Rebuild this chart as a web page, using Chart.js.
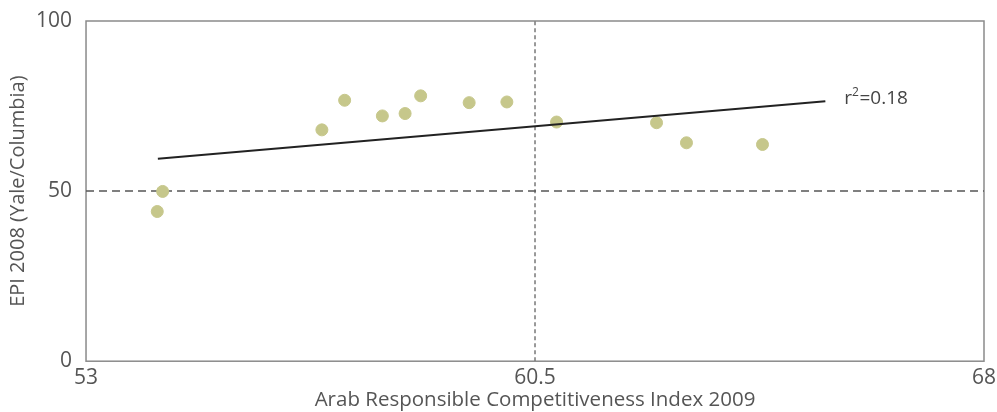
<!DOCTYPE html>
<html>
<head>
<meta charset="utf-8">
<script src="https://cdn.jsdelivr.net/npm/chart.js@4"></script>
<style>
html,body{margin:0;padding:0;background:#fff;}
#wrap{width:997px;height:412px;}
</style>
</head>
<body>
<div id="wrap"><canvas id="c" width="997" height="412"></canvas></div>
<script>
// Data
const arciX = [54.19, 54.28, 56.94, 57.32, 57.95, 58.33, 58.59, 59.40, 60.03, 60.86, 62.53, 63.03, 64.30];
const epiY  = [44.0, 49.9, 68.0, 76.7, 72.1, 72.8, 78.0, 76.0, 76.2, 70.3, 70.1, 64.2, 63.7];
const trendX = [54.2, 65.35];
const trendY = [59.5, 76.4];
const xTicks = [53, 60.5, 68];
const yTicks = [0, 50, 100];
const refX = 60.5;
const refY = 50;
const r2Label = ['r', '2', '=0.18'];
const xTitle = 'Arab Responsible Competitiveness Index 2009';
const yTitle = 'EPI 2008 (Yale/Columbia)';

const FONT = '"Open Sans", "DejaVu Sans", sans-serif';

const framePlugin = {
  id: 'frame',
  beforeDatasetsDraw(chart) {
    const {ctx, chartArea: a} = chart;
    ctx.save();
    ctx.strokeStyle = '#8a8a8a';
    ctx.lineWidth = 1.5;
    ctx.strokeRect(a.left, a.top, a.right - a.left, a.bottom - a.top);
    ctx.restore();
  },
  afterDatasetsDraw(chart) {
    const {ctx} = chart;
    const xs = chart.scales.x, ys = chart.scales.y;
    const px = xs.getPixelForValue(trendX[1]);
    const py = ys.getPixelForValue(trendY[1]);
    ctx.save();
    ctx.fillStyle = '#444';
    ctx.textBaseline = 'middle';
    ctx.textAlign = 'left';
    const x0 = px + 19;
    ctx.font = '19px ' + FONT;
    ctx.fillText(r2Label[0], x0, py - 3);
    const w = ctx.measureText(r2Label[0]).width;
    ctx.font = '12px ' + FONT;
    ctx.fillText(r2Label[1], x0 + w, py - 9);
    const w2 = ctx.measureText(r2Label[1]).width;
    ctx.font = '19px ' + FONT;
    ctx.fillText(r2Label[2], x0 + w + w2 + 0.5, py - 3);
    ctx.restore();
  }
};

new Chart(document.getElementById('c'), {
  type: 'scatter',
  data: {
    datasets: [
      {
        label: 'refY',
        type: 'line',
        data: [{x: xTicks[0], y: refY}, {x: xTicks[xTicks.length - 1], y: refY}],
        borderColor: '#555',
        borderWidth: 1.5,
        borderDash: [8, 5],
        pointRadius: 0,
        order: 3
      },
      {
        label: 'refX',
        type: 'line',
        data: [{x: refX, y: yTicks[0]}, {x: refX, y: yTicks[yTicks.length - 1]}],
        borderColor: '#777',
        borderWidth: 1.5,
        borderDash: [4, 3],
        pointRadius: 0,
        order: 3
      },
      {
        label: 'trend',
        type: 'line',
        data: trendX.map((x, i) => ({x, y: trendY[i]})),
        borderColor: '#222',
        borderWidth: 2,
        pointRadius: 0,
        order: 1
      },
      {
        label: 'countries',
        data: arciX.map((x, i) => ({x, y: epiY[i]})),
        backgroundColor: '#c6c78b',
        borderColor: '#c6c78b',
        pointRadius: 6,
        pointHoverRadius: 6,
        order: 2
      }
    ]
  },
  options: {
    responsive: false,
    animation: false,
    layout: {padding: {left: 6, right: 13, top: 21, bottom: 0}},
    plugins: {legend: {display: false}, tooltip: {enabled: false}},
    scales: {
      x: {
        type: 'linear',
        min: xTicks[0],
        max: xTicks[xTicks.length - 1],
        afterBuildTicks(s) { s.ticks = xTicks.map(v => ({value: v})); },
        afterFit(s) { s.paddingLeft = 0; s.paddingRight = 0; },
        grid: {display: false, drawTicks: false},
        border: {display: false},
        ticks: {color: '#555', font: {family: FONT, size: 21}, padding: 4, maxRotation: 0, autoSkip: false,
                callback: v => String(v)},
        title: {display: true, text: xTitle, color: '#555', font: {family: FONT, size: 20.5}, padding: {top: -7, bottom: 0}}
      },
      y: {
        type: 'linear',
        min: yTicks[0],
        max: yTicks[yTicks.length - 1],
        afterBuildTicks(s) { s.ticks = yTicks.map(v => ({value: v})); },
        afterFit(s) { s.paddingTop = 0; s.paddingBottom = 0; },
        grid: {display: false, drawTicks: false},
        border: {display: false},
        ticks: {color: '#555', font: {family: FONT, size: 21}, padding: 14},
        title: {display: true, text: yTitle, color: '#555', font: {family: FONT, size: 20}, padding: {top: 0, bottom: -8}}
      }
    }
  },
  plugins: [framePlugin]
});
</script>
</body>
</html>
